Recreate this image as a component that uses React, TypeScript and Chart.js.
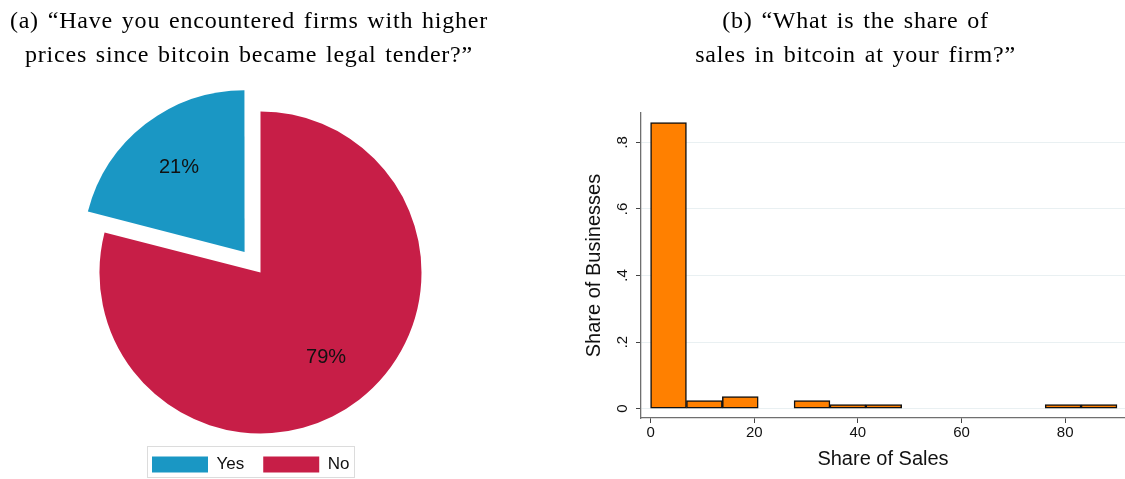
import React, { useEffect, useRef } from 'react';
import { Chart, registerables } from 'chart.js';

Chart.register(...registerables);
Chart.defaults.font.family = '"Liberation Sans", Arial, sans-serif';

// ---- Panel (a): pie ----
const pieLabels = ['Yes', 'No'];
const pieValues = [21, 79];
const pieColors = ['#1a97c4', '#c71e47'];
const pieOffsets = [104, 0];

// ---- Panel (b): histogram ----
const binStarts = [0, 6.92, 13.85, 20.77, 27.69, 34.62, 41.54, 48.46, 55.38, 62.31, 69.23, 76.15, 83.08];
const binWidth = 6.92;
const binShares = [0.859, 0.024, 0.036, 0, 0.024, 0.012, 0.012, 0, 0, 0, 0, 0.012, 0.012];
const xTicks = [0, 20, 40, 60, 80];
const yTicks = [0, 0.2, 0.4, 0.6, 0.8];

const titleA = ['(a) \u201cHave you encountered firms with higher', 'prices since bitcoin became legal tender?\u201d'];
const titleB = ['(b) \u201cWhat is the share of', 'sales in bitcoin at your firm?\u201d'];

const pieLabelPlugin = {
  id: 'pieLabels',
  afterDatasetsDraw(chart: any) {
    const ctx = chart.ctx;
    const meta = chart.getDatasetMeta(0);
    const data = chart.data.datasets[0].data as number[];
    const total = data.reduce((a, b) => a + b, 0);
    ctx.save();
    ctx.font = '20px "Liberation Sans", Arial, sans-serif';
    ctx.fillStyle = '#111';
    ctx.textAlign = 'center';
    ctx.textBaseline = 'middle';
    meta.data.forEach((arc: any, i: number) => {
      const p = arc.getProps(['x', 'y', 'startAngle', 'endAngle', 'outerRadius']);
      const mid = (p.startAngle + p.endAngle) / 2;
      const shift = (arc.options.offset || 0) / 4;
      const r = p.outerRadius * 0.665 + shift;
      ctx.fillText(Math.round((data[i] / total) * 100) + '%', p.x + Math.cos(mid) * r, p.y + Math.sin(mid) * r);
    });
    ctx.restore();
  },
};

const legendFramePlugin = {
  id: 'legendFrame',
  afterDraw(chart: any) {
    const boxes = chart.legend && chart.legend.legendHitBoxes;
    if (!boxes || !boxes.length) return;
    const first = boxes[0];
    const last = boxes[boxes.length - 1];
    const ctx = chart.ctx;
    ctx.save();
    ctx.strokeStyle = '#dcdcdc';
    ctx.lineWidth = 1;
    const l = Math.round(first.left - 5) + 0.5;
    const t = Math.round(first.top - 10) + 0.5;
    const r = Math.round(last.left + last.width + 5) + 0.5;
    const b = Math.round(first.top + first.height + 4) + 0.5;
    ctx.strokeRect(l, t, r - l, b - t);
    ctx.restore();
  },
};

function PieChart() {
  const ref = useRef<HTMLCanvasElement | null>(null);
  useEffect(() => {
    if (!ref.current) return;
    const total = pieValues.reduce((a, b) => a + b, 0);
    const chart = new Chart(ref.current, {
      type: 'pie',
      data: {
        labels: pieLabels,
        datasets: [
          {
            data: pieValues,
            backgroundColor: pieColors,
            borderWidth: 0,
            offset: pieOffsets,
            hoverOffset: 0,
            radius: 161,
            clip: false,
          } as any,
        ],
      },
      options: {
        responsive: true,
        maintainAspectRatio: false,
        animation: false,
        events: [],
        radius: 161,
        rotation: (-360 * pieValues[0]) / total,
        layout: { padding: { top: 108, left: 133, right: 133, bottom: -4 } },
        plugins: {
          legend: {
            position: 'bottom',
            fullSize: false,
            align: 'start',
            labels: {
              boxWidth: 56,
              boxHeight: 16,
              padding: 19,
              color: '#111',
              font: { size: 17 },
            },
          },
          tooltip: { enabled: false },
          title: { display: false },
        },
      } as any,
      plugins: [pieLabelPlugin, legendFramePlugin],
    });
    return () => chart.destroy();
  }, []);
  return (
    <div style={{ position: 'absolute', left: 0, top: 0, width: 521, height: 479 }}>
      <canvas ref={ref} />
    </div>
  );
}

function HistChart() {
  const ref = useRef<HTMLCanvasElement | null>(null);
  useEffect(() => {
    if (!ref.current) return;
    const points = binStarts
      .map((s, i) => ({ x: s + binWidth / 2, y: binShares[i] }))
      .filter((p) => p.y > 0);
    const chart = new Chart(ref.current, {
      type: 'bar',
      data: {
        datasets: [
          {
            data: points,
            backgroundColor: '#ff8000',
            borderColor: '#111',
            borderWidth: 1.5,
            borderSkipped: false,
            barPercentage: 1,
            categoryPercentage: 1,
            grouped: false,
          } as any,
        ],
      },
      options: {
        responsive: true,
        maintainAspectRatio: false,
        animation: false,
        events: [],
        layout: { padding: { top: 113, left: 0, right: 0, bottom: 0 } },
        plugins: { legend: { display: false }, tooltip: { enabled: false }, title: { display: false } },
        scales: {
          x: {
            type: 'linear',
            offset: false,
            min: -1.85,
            max: 91.55,
            afterBuildTicks: (s: any) => {
              s.ticks = xTicks.map((v) => ({ value: v }));
            },
            afterFit: (s: any) => {
              s.height = 61;
            },
            grid: {
              offset: false,
              drawOnChartArea: false,
              drawTicks: true,
              tickLength: 5,
              tickColor: '#444',
              tickWidth: 1,
            },
            border: { display: true, color: '#6f6f6f', width: 1.3 },
            ticks: { padding: 1, color: '#111', font: { size: 15 }, maxRotation: 0, autoSkip: false },
            title: {
              display: true,
              text: 'Share of Sales',
              color: '#111',
              font: { size: 20 },
              padding: { top: 0, bottom: 8 },
            },
          },
          y: {
            type: 'linear',
            min: -0.028,
            max: 0.888,
            afterBuildTicks: (s: any) => {
              s.ticks = yTicks.map((v) => ({ value: v }));
            },
            afterFit: (s: any) => {
              s.width = 81;
            },
            grid: { color: '#e9f0f2', lineWidth: 1, tickColor: '#444', tickLength: 5, drawTicks: true },
            border: { display: true, color: '#6f6f6f', width: 1.3 },
            ticks: {
              padding: 7,
              color: '#111',
              font: { size: 15 },
              minRotation: 90,
              maxRotation: 90,
              crossAlign: 'center',
              autoSkip: false,
              callback: (v: any) => (Number(v) === 0 ? '0' : Number(v).toFixed(1).replace(/^0\./, '.')),
            },
            title: {
              display: true,
              text: 'Share of Businesses',
              color: '#111',
              font: { size: 20 },
              padding: { top: 22.5, bottom: 0 },
            },
          },
        },
      } as any,
    });
    return () => chart.destroy();
  }, []);
  return (
    <div style={{ position: 'absolute', left: 560, top: 0, width: 565, height: 479 }}>
      <canvas ref={ref} />
    </div>
  );
}

const titleStyle: React.CSSProperties = {
  position: 'absolute',
  top: 3,
  textAlign: 'center',
  fontFamily: '"Liberation Serif", "Times New Roman", serif',
  fontSize: 24,
  lineHeight: '34px',
  letterSpacing: '0.8px',
  wordSpacing: '2px',
  color: '#000',
  whiteSpace: 'nowrap',
};

export default function App() {
  return (
    <div
      style={{
        position: 'absolute',
        left: 0,
        top: 0,
        width: 1125,
        height: 479,
        overflow: 'hidden',
        background: '#fff',
      }}
    >
      <PieChart />
      <HistChart />
      <div style={{ ...titleStyle, left: 0, width: 498 }}>
        {titleA.map((l) => (
          <div key={l}>{l}</div>
        ))}
      </div>
      <div style={{ ...titleStyle, left: 586, width: 539 }}>
        {titleB.map((l) => (
          <div key={l}>{l}</div>
        ))}
      </div>
    </div>
  );
}
